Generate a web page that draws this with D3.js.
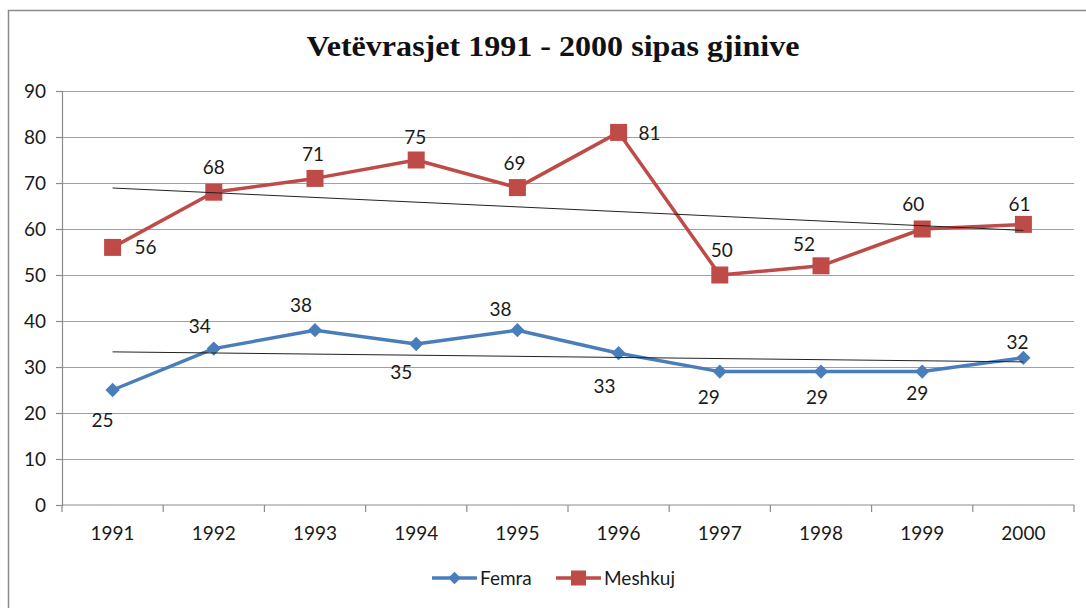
<html>
  <head>
    <meta charset="utf-8">
    <title>Vetëvrasjet 1991 - 2000 sipas gjinive</title>
    <style>
      body { margin: 0; background: #fff; }
    </style>
  </head>
  <body>
    <script src="https://d3js.org/d3.v7.min.js"></script>
    <script>
      var years = ['1991', '1992', '1993', '1994', '1995', '1996', '1997', '1998', '1999', '2000'];
      var femra = [25, 34, 38, 35, 38, 33, 29, 29, 29, 32];
      var meshkuj = [56, 68, 71, 75, 69, 81, 50, 52, 60, 61];
      var yTicks = [0, 10, 20, 30, 40, 50, 60, 70, 80, 90];
      var seriesNames = ['Femra', 'Meshkuj'];

      // label offsets (px) from each marker, placed by hand like the original
      var femraLabelDx = [-10, -14, -14, -15, -17, -14, -11, -4, -5, -6];
      var femraLabelDy = [30, -22, -25, 28, -21, 33, 26, 26, 22, -15];
      var meshkujLabelDx = [33, 0, -2, -1, -3, 31, 2, -17, -9, -4];
      var meshkujLabelDy = [0, -25, -24, -23, -24, 1, -25, -21, -25, -20];

      (function() {
        var W = 1086, H = 608;
        var LEFT = 62, RIGHT = 1074, TOP = 91, BOTTOM = 505;
        var FONT = 'Lato, "Open Sans", sans-serif';
        var FS = '19px';

        var colors = {
          BLUE: '#4a7ebb',
          RED: '#be4b48',
          GRID: '#a0a0a0',
          AXIS: '#8c8c8c',
          TEXT: '#1a1a1a'
        };

        var svg = d3.select('body').append('svg')
          .attr('width', W)
          .attr('height', H);

        // outer frame (only top and left edges are visible)
        svg.append('path')
          .attr('d', 'M8.5,' + H + 'V10.5H' + W)
          .attr('fill', 'none')
          .attr('stroke', '#8a8a8a')
          .attr('stroke-width', 1.5);

        // title
        svg.append('text')
          .text('Vetëvrasjet 1991 - 2000 sipas gjinive')
          .attr('x', 553)
          .attr('y', 56)
          .attr('text-anchor', 'middle')
          .attr('font-family', '"Liberation Serif", serif')
          .attr('font-weight', 'bold')
          .attr('font-size', '29px')
          .attr('textLength', 493)
          .attr('lengthAdjust', 'spacingAndGlyphs')
          .attr('fill', '#111');

        var x = d3.scaleBand().domain(years).range([LEFT, RIGHT]);
        var y = d3.scaleLinear().domain([0, 90]).range([BOTTOM, TOP]);
        var cx = function(i) { return x(years[i]) + x.bandwidth() / 2; };

        // gridlines
        svg.append('g')
          .selectAll('line')
          .data(yTicks.filter(function(d) { return d > 0; }))
          .join('line')
          .attr('x1', LEFT)
          .attr('x2', RIGHT)
          .attr('y1', function(d) { return Math.round(y(d)) + 0.5; })
          .attr('y2', function(d) { return Math.round(y(d)) + 0.5; })
          .attr('stroke', colors.GRID)
          .attr('stroke-width', 1.2);

        // y axis
        var yAxis = svg.append('g')
          .attr('transform', 'translate(' + LEFT + ',0)')
          .call(d3.axisLeft(y).tickValues(yTicks).tickSize(6).tickPadding(10));
        yAxis.select('.domain').attr('stroke', colors.AXIS).attr('stroke-width', 1.2);
        yAxis.selectAll('.tick line').attr('stroke', colors.AXIS).attr('stroke-width', 1.2);
        yAxis.selectAll('.tick text')
          .attr('font-family', FONT)
          .attr('font-size', FS)
          .attr('fill', colors.TEXT);

        // x axis: ticks sit between categories
        var xAxisG = svg.append('g')
          .attr('transform', 'translate(0,' + BOTTOM + ')');
        xAxisG.append('line')
          .attr('x1', LEFT).attr('x2', RIGHT)
          .attr('stroke', colors.AXIS).attr('stroke-width', 1.2);
        xAxisG.selectAll('line.tick')
          .data(years.concat(['end']))
          .join('line')
          .attr('class', 'tick')
          .attr('x1', function(d, i) { return LEFT + i * x.step(); })
          .attr('x2', function(d, i) { return LEFT + i * x.step(); })
          .attr('y1', 0)
          .attr('y2', 7)
          .attr('stroke', colors.AXIS)
          .attr('stroke-width', 1.2);
        xAxisG.selectAll('text')
          .data(years)
          .join('text')
          .text(function(d) { return d; })
          .attr('x', function(d) { return x(d) + x.bandwidth() / 2; })
          .attr('y', 35)
          .attr('text-anchor', 'middle')
          .attr('font-family', FONT)
          .attr('font-size', FS)
          .attr('fill', colors.TEXT);

        // linear trend lines (least squares on the series)
        function trend(values) {
          var n = values.length;
          var mx = (n - 1) / 2;
          var my = d3.mean(values);
          var sxy = d3.sum(values, function(v, i) { return (i - mx) * (v - my); });
          var sxx = d3.sum(values, function(v, i) { return (i - mx) * (i - mx); });
          var b = sxy / sxx;
          return [my - b * mx, my + b * (n - 1 - mx)];
        }

        var line = d3.line()
          .x(function(d, i) { return cx(i); })
          .y(function(d) { return y(d); });

        function drawSeries(values, color) {
          svg.append('path')
            .datum(values)
            .attr('d', line)
            .attr('fill', 'none')
            .attr('stroke', color)
            .attr('stroke-width', 3.5)
            .attr('stroke-linejoin', 'round');
        }

        drawSeries(femra, colors.BLUE);
        drawSeries(meshkuj, colors.RED);

        // markers
        svg.append('g').selectAll('path')
          .data(femra)
          .join('path')
          .attr('d', d3.symbol(d3.symbolDiamond2, 130))
          .attr('transform', function(d, i) { return 'translate(' + cx(i) + ',' + y(d) + ')'; })
          .attr('fill', colors.BLUE);

        svg.append('g').selectAll('rect')
          .data(meshkuj)
          .join('rect')
          .attr('x', function(d, i) { return cx(i) - 8.5; })
          .attr('y', function(d) { return y(d) - 8.5; })
          .attr('width', 17)
          .attr('height', 17)
          .attr('fill', colors.RED);

        // trend lines drawn on top
        [femra, meshkuj].forEach(function(values) {
          var t = trend(values);
          svg.append('line')
            .attr('x1', cx(0)).attr('x2', cx(values.length - 1))
            .attr('y1', y(t[0])).attr('y2', y(t[1]))
            .attr('stroke', '#222')
            .attr('stroke-width', 1);
        });

        // data labels
        function labels(values, dx, dy) {
          svg.append('g').selectAll('text')
            .data(values)
            .join('text')
            .text(function(d) { return d; })
            .attr('x', function(d, i) { return cx(i) + dx[i]; })
            .attr('y', function(d, i) { return y(d) + dy[i]; })
            .attr('dy', '0.35em')
            .attr('text-anchor', 'middle')
            .attr('font-family', FONT)
            .attr('font-size', FS)
            .attr('fill', colors.TEXT);
        }
        labels(femra, femraLabelDx, femraLabelDy);
        labels(meshkuj, meshkujLabelDx, meshkujLabelDy);

        // legend
        var legend = svg.append('g').attr('transform', 'translate(0,578)');
        var items = [
          { name: seriesNames[0], color: colors.BLUE, x0: 432, marker: 'diamond' },
          { name: seriesNames[1], color: colors.RED, x0: 556, marker: 'square' }
        ];
        items.forEach(function(it) {
          legend.append('line')
            .attr('x1', it.x0).attr('x2', it.x0 + 45)
            .attr('stroke', it.color).attr('stroke-width', 3.5);
          if (it.marker === 'diamond') {
            legend.append('path')
              .attr('d', d3.symbol(d3.symbolDiamond2, 100))
              .attr('transform', 'translate(' + (it.x0 + 22.5) + ',0)')
              .attr('fill', it.color);
          } else {
            legend.append('rect')
              .attr('x', it.x0 + 22.5 - 7.5).attr('y', -7.5)
              .attr('width', 15).attr('height', 15)
              .attr('fill', it.color);
          }
          legend.append('text')
            .text(it.name)
            .attr('x', it.x0 + 48)
            .attr('dy', '0.35em')
            .attr('font-family', FONT)
            .attr('font-size', FS)
            .attr('fill', colors.TEXT);
        });
      })();
    </script>
  </body>
</html>
